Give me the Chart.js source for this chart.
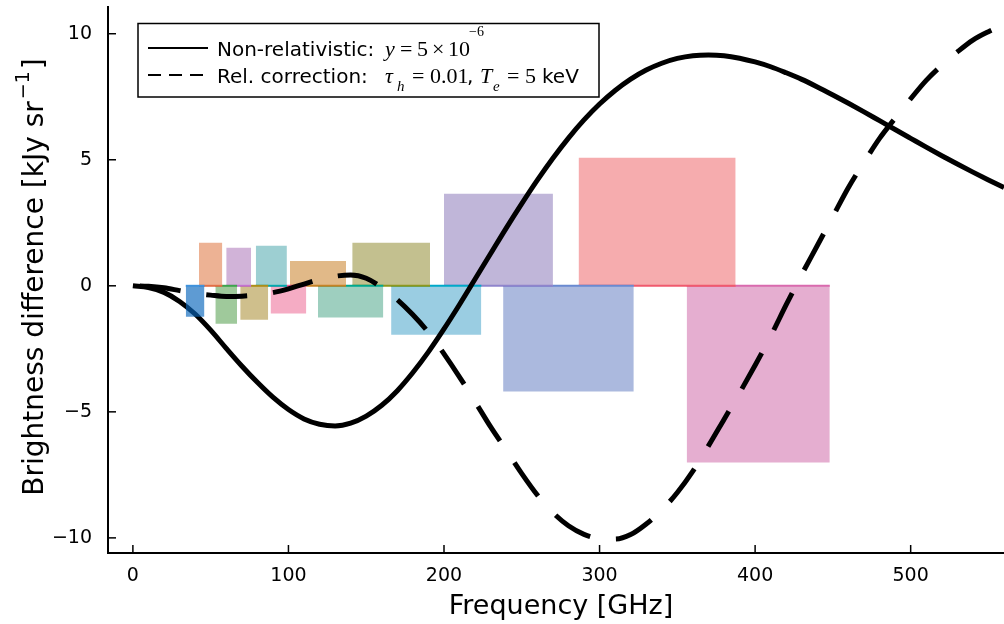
<!DOCTYPE html>
<html>
<head>
<meta charset="utf-8">
<script src="https://cdn.jsdelivr.net/npm/chart.js@4.4.0/dist/chart.umd.min.js"></script>
<style>
  html, body { margin: 0; padding: 0; background: #fff; }
</style>
</head>
<body>
<canvas id="sz_chart" width="1004" height="624"></canvas>
<script>
// Curves: frequency grid [GHz] and brightness difference [kJy/sr]
var freq = [0, 10, 20, 30, 40, 50, 60, 70, 80, 90,
  100, 110, 120, 130, 140, 150, 160, 170, 180, 190,
  200, 210, 220, 230, 240, 250, 260, 270, 280, 290,
  300, 310, 320, 330, 340, 350, 360, 370, 380, 390,
  400, 410, 420, 430, 440, 450, 460, 470, 480, 490,
  500, 510, 520, 530, 540, 550, 560]

var nonRel = [0, -0.07, -0.26, -0.62, -1.12, -1.76, -2.48, -3.18, -3.83, -4.42,
  -4.91, -5.28, -5.49, -5.56, -5.45, -5.17, -4.74, -4.16, -3.44, -2.62,
  -1.71, -0.74, 0.27, 1.28, 2.29, 3.26, 4.19, 5.06, 5.86, 6.58,
  7.21, 7.75, 8.20, 8.56, 8.83, 9.02, 9.13, 9.16, 9.13, 9.03,
  8.88, 8.69, 8.45, 8.19, 7.89, 7.57, 7.24, 6.90, 6.55, 6.20,
  5.85, 5.50, 5.16, 4.83, 4.51, 4.20, 3.90]

var relCorr = [0, -0.02, -0.08, -0.19, -0.30, -0.37, -0.42, -0.41, -0.36, -0.27,
  -0.12, 0.07, 0.25, 0.38, 0.43, 0.30, -0.07, -0.55, -1.15, -1.85,
  -2.70, -3.62, -4.60, -5.60, -6.52, -7.45, -8.30, -9.00, -9.52, -9.86,
  -10.03, -10.05, -9.87, -9.45, -8.90, -8.20, -7.35, -6.35, -5.30, -4.25,
  -3.15, -2.00, -0.75, 0.45, 1.60, 2.75, 3.90, 4.90, 5.85, 6.65,
  7.42, 8.15, 8.75, 9.28, 9.75, 10.08, 10.35]

// Bands: centre [GHz], width [GHz], band value [kJy/sr]
var bandCenter = [40, 50, 60, 68, 78, 89, 100, 119, 140, 166, 195, 235, 280, 337, 402]
var bandWidth = [12, 15, 14, 16, 18, 20, 23, 36, 42, 50, 58, 70, 84, 101, 92]
var bandValue = [-1.23, 1.71, -1.51, 1.51, -1.35, 1.59, -1.10, 0.98, -1.26, 1.71, -1.94, 3.65, -4.19, 5.08, -7.01]

// tick labels
var xTicks = [0, 100, 200, 300, 400, 500]
var yTicks = [-10, -5, 0, 5, 10]

// band colours (edge line / fill)
var bandLine = ['#3f92dc', '#e36f47', '#3ea44e', '#c371d2', '#ac8e18', '#00aaae', '#ed5e93', '#c68225',
  '#00a98e', '#8e971d', '#00a9c9', '#8f84cc', '#6a8ad0', '#f05a6e', '#d96aae']
var bandFill = ['rgba(7,101,187,0.65)', '#edb294', '#9fc99b', '#d1b3d8', '#cfbf8c', '#9dcfd2', '#f5acc4', '#e1b988',
  '#9ecfbf', '#c3c08f', '#9acde2', '#c0b6d9', '#abb9de', '#f6acae', '#e5aed0']

const sansFont = '"DejaVu Sans", sans-serif'
const mathFont = '"Liberation Serif", "DejaVu Serif", serif'

var datasets = []

bandCenter.map((c, i) => {
  datasets.push({
    data: [{x: c - bandWidth[i] / 2, y: 0}, {x: c + bandWidth[i] / 2, y: 0}],
    borderColor: bandLine[i],
    borderWidth: 2,
    backgroundColor: bandFill[i],
    fill: {value: bandValue[i]},
    pointRadius: 0,
    tension: 0,
    order: i == 0 ? 1 : 3,
  })
})

datasets.push({
  data: freq.map((f, i) => ({x: f, y: nonRel[i]})),
  borderColor: '#000',
  borderWidth: 5,
  pointRadius: 0,
  fill: false,
  cubicInterpolationMode: 'monotone',
  borderJoinStyle: 'round',
  order: 2,
})

datasets.push({
  data: freq.map((f, i) => ({x: f, y: relCorr[i]})),
  borderColor: '#000',
  borderWidth: 5,
  borderDash: [41, 26],
  borderDashOffset: -7,
  pointRadius: 0,
  fill: false,
  cubicInterpolationMode: 'monotone',
  borderJoinStyle: 'round',
  order: 2,
})

// axis lines, inward ticks, titles and legend
var decorations = {
  id: 'decorations',
  afterDraw: (chart) => {
    const ctx = chart.ctx
    const area = chart.chartArea
    const xs = chart.scales.x
    const ys = chart.scales.y
    ctx.save()
    ctx.strokeStyle = '#000'
    ctx.lineWidth = 2
    ctx.beginPath()
    ctx.moveTo(area.left, area.top)
    ctx.lineTo(area.left, area.bottom)
    ctx.lineTo(area.right, area.bottom)
    ctx.stroke()

    ctx.lineWidth = 1.5
    xTicks.map((v) => {
      const px = xs.getPixelForValue(v)
      ctx.beginPath()
      ctx.moveTo(px, area.bottom)
      ctx.lineTo(px, area.bottom - 8)
      ctx.stroke()
    })
    yTicks.map((v) => {
      const py = ys.getPixelForValue(v)
      ctx.beginPath()
      ctx.moveTo(area.left, py)
      ctx.lineTo(area.left + 8, py)
      ctx.stroke()
    })

    ctx.fillStyle = '#000'
    ctx.textBaseline = 'alphabetic'

    // x title
    ctx.font = '27px ' + sansFont
    ctx.textAlign = 'center'
    ctx.fillText('Frequency [GHz]', 561, 614)

    // y title (rotated, with superscript)
    ctx.save()
    ctx.translate(43, 277)
    ctx.rotate(-Math.PI / 2)
    ctx.textAlign = 'left'
    const main = 'Brightness difference [kJy sr'
    ctx.font = '28px ' + sansFont
    const w1 = ctx.measureText(main).width
    const w3 = ctx.measureText(']').width
    ctx.font = '19px ' + sansFont
    const w2 = ctx.measureText('\u22121').width
    const start = -(w1 + w2 + w3 + 4) / 2
    ctx.font = '28px ' + sansFont
    ctx.fillText(main, start, 0)
    ctx.fillText(']', start + w1 + w2 + 4, 0)
    ctx.font = '19px ' + sansFont
    ctx.fillText('\u22121', start + w1 + 2, -14)
    ctx.restore()

    // legend
    ctx.fillStyle = '#fff'
    ctx.fillRect(138, 23.5, 461, 73.5)
    ctx.strokeStyle = '#000'
    ctx.lineWidth = 1.5
    ctx.strokeRect(138, 23.5, 461, 73.5)

    ctx.lineWidth = 2
    ctx.beginPath()
    ctx.moveTo(148, 48)
    ctx.lineTo(208, 48)
    ctx.stroke()
    ctx.setLineDash([13, 8])
    ctx.beginPath()
    ctx.moveTo(148, 75)
    ctx.lineTo(208, 75)
    ctx.stroke()
    ctx.setLineDash([])

    ctx.fillStyle = '#000'
    ctx.textAlign = 'left'
    const put = (txt, x, y, font) => {
      ctx.font = font
      ctx.fillText(txt, x, y)
    }
    const sans = '20px ' + sansFont
    const mi = 'italic 22px ' + mathFont
    const mr = '22px ' + mathFont
    const ms = '14px ' + mathFont
    const msi = 'italic 15px ' + mathFont

    put('Non-relativistic:', 217, 56, sans)
    put('y', 385, 56, mi)
    put('=', 400, 56, mr)
    put('5', 417, 56, mr)
    put('\u00d7', 432, 56, mr)
    put('10', 448, 56, mr)
    put('\u22126', 469, 36, ms)

    put('Rel. correction:', 217, 83, sans)
    put('\u03c4', 385, 83, mi)
    put('h', 397, 91, msi)
    put('=', 412, 83, mr)
    put('0.01', 430, 83, mr)
    put(',', 467, 83, sans)
    put('T', 480, 83, mi)
    put('e', 493, 91, msi)
    put('=', 507, 83, mr)
    put('5', 525, 83, mr)
    put('keV', 542, 83, sans)

    ctx.restore()
  }
}

var szCanvas = document.getElementById('sz_chart').getContext('2d')

new Chart(szCanvas, {
  type: 'line',
  data: {datasets: datasets},
  options: {
    responsive: false,
    animation: false,
    devicePixelRatio: 1,
    layout: {padding: {top: 6, right: 0, left: 0, bottom: 0}},
    plugins: {
      legend: {display: false},
      tooltip: {enabled: false},
    },
    scales: {
      x: {
        type: 'linear',
        min: -16,
        max: 560,
        grid: {display: false, drawTicks: false},
        border: {display: false},
        afterBuildTicks: (scale) => { scale.ticks = xTicks.map((v) => ({value: v})) },
        afterFit: (scale) => {
          scale.height = 71
          scale.paddingLeft = 0
          scale.paddingRight = 0
        },
        ticks: {
          color: '#000',
          padding: 12,
          maxRotation: 0,
          font: {family: sansFont, size: 19},
          callback: (v) => String(v).replace('-', '\u2212'),
        },
      },
      y: {
        type: 'linear',
        min: -10.6,
        max: 11.1,
        grid: {display: false, drawTicks: false},
        border: {display: false},
        afterBuildTicks: (scale) => { scale.ticks = yTicks.map((v) => ({value: v})) },
        afterFit: (scale) => {
          scale.width = 108
          scale.paddingTop = 0
          scale.paddingBottom = 0
        },
        ticks: {
          color: '#000',
          padding: 16,
          font: {family: sansFont, size: 19},
          callback: (v) => String(v).replace('-', '\u2212'),
        },
      },
    },
  },
  plugins: [decorations],
})
</script>
</body>
</html>
